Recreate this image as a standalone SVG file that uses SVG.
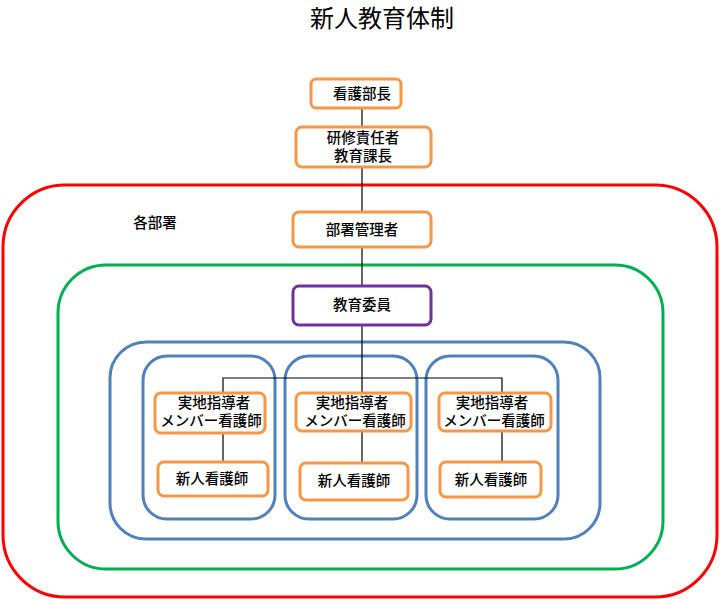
<svg xmlns="http://www.w3.org/2000/svg" width="720" height="601" viewBox="0 0 720 601">
<style>
text{font-family:"Noto Sans CJK JP","Noto Sans CJK SC",sans-serif;fill:#000;text-anchor:middle;font-weight:500}
.t{font-size:14.5px}
.o{fill:#fff;stroke:#f79646;stroke-width:3}
.p{fill:#fff;stroke:#7030a0;stroke-width:3}
.b{fill:none;stroke:#4f81bd;stroke-width:3}
.ln{stroke:#000;stroke-width:1.2;fill:none}
</style>
<rect width="720" height="601" fill="#fff"/>
<text x="382" y="27" style="font-size:24px;font-weight:400">新人教育体制</text>
<g id="region-busho"><rect x="3" y="185" width="714" height="412" rx="62" fill="none" stroke="#ff0000" stroke-width="3"/><text class="t" x="155" y="228">各部署</text></g>
<g id="region-green"><rect x="58" y="265" width="605" height="304" rx="48" fill="none" stroke="#00b050" stroke-width="3"/></g>
<g id="region-blue"><rect class="b" x="110" y="342" width="490" height="197" rx="36"/></g>
<g id="team1"><rect class="b" x="143" y="356" width="132" height="163" rx="24"/></g>
<g id="team2"><rect class="b" x="285" y="356" width="132" height="163" rx="24"/></g>
<g id="team3"><rect class="b" x="426" y="356" width="132" height="163" rx="24"/></g>
<g id="connectors">
<path class="ln" d="M362 108V127M362 167V212M362 247V286M362 325V393M223 393V378H502V393M223 433V462M362 431V463M502 431V462"/>
</g>
<g id="kango-bucho"><rect class="o" x="311" y="79" width="90" height="29" rx="5"/><text class="t" x="362" y="99">看護部長</text></g>
<g id="kenshu"><rect class="o" x="296" y="127" width="135" height="40" rx="6"/><text class="t" x="363" y="143">研修責任者</text><text class="t" x="363" y="161">教育課長</text></g>
<g id="busho-kanri"><rect class="o" x="293" y="212" width="138" height="35" rx="6"/><text class="t" x="362" y="235">部署管理者</text></g>
<g id="kyoiku-iin"><rect class="p" x="293" y="286" width="138" height="39" rx="6"/><text class="t" x="362" y="310">教育委員</text></g>
<g id="jicchi1"><rect class="o" x="155" y="393" width="110" height="40" rx="6"/><text class="t" x="214" y="408">実地指導者</text><text class="t" x="211" y="426">メンバー看護師</text></g>
<g id="jicchi2"><rect class="o" x="296" y="393" width="115" height="38" rx="6"/><text class="t" x="352" y="408">実地指導者</text><text class="t" x="355" y="426">メンバー看護師</text></g>
<g id="jicchi3"><rect class="o" x="439" y="393" width="112" height="38" rx="6"/><text class="t" x="492" y="408">実地指導者</text><text class="t" x="494" y="426">メンバー看護師</text></g>
<g id="shinjin1"><rect class="o" x="158" y="462" width="110" height="34" rx="6"/><text class="t" x="212" y="484">新人看護師</text></g>
<g id="shinjin2"><rect class="o" x="300" y="463" width="108" height="37" rx="6"/><text class="t" x="354" y="486">新人看護師</text></g>
<g id="shinjin3"><rect class="o" x="440" y="462" width="101" height="35" rx="6"/><text class="t" x="491" y="485">新人看護師</text></g>
</svg>
